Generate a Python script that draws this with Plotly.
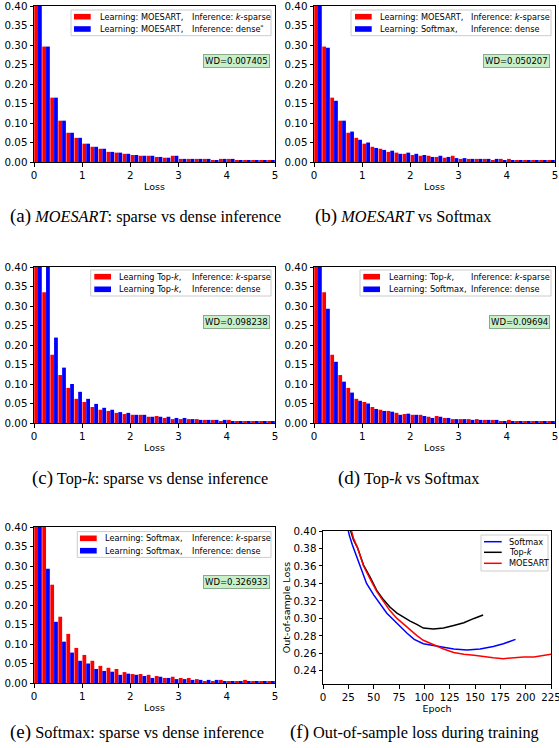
import plotly.graph_objects as go

# ---------------- data ----------------
bin_width = 1 / 6
n_bins = 30
bin_centers = [i * bin_width + bin_width / 2 for i in range(n_bins)]

moesart_sparse = [0.48, 0.296, 0.165, 0.106, 0.075, 0.062, 0.047, 0.039, 0.034, 0.026,
                  0.024, 0.021, 0.018, 0.016, 0.016, 0.013, 0.011, 0.016, 0.008, 0.008,
                  0.008, 0.008, 0.005, 0.008, 0.008, 0.005, 0.005, 0.005, 0.005, 0.003]
moesart_dense = [0.48, 0.296, 0.165, 0.106, 0.075, 0.062, 0.047, 0.039, 0.034, 0.026,
                 0.024, 0.021, 0.018, 0.016, 0.016, 0.013, 0.011, 0.016, 0.008, 0.008,
                 0.008, 0.008, 0.005, 0.008, 0.008, 0.005, 0.005, 0.005, 0.005, 0.003]
softmax_dense = [0.48, 0.293, 0.157, 0.106, 0.078, 0.057, 0.050, 0.036, 0.031, 0.029,
                 0.021, 0.024, 0.021, 0.018, 0.013, 0.016, 0.013, 0.010, 0.010, 0.008,
                 0.008, 0.008, 0.008, 0.005, 0.005, 0.005, 0.005, 0.005, 0.005, 0.005]
softmax_sparse = [0.50, 0.45, 0.252, 0.170, 0.126, 0.090, 0.072, 0.057, 0.044, 0.039,
                  0.036, 0.028, 0.023, 0.023, 0.021, 0.018, 0.013, 0.016, 0.013, 0.013,
                  0.010, 0.005, 0.005, 0.008, 0.005, 0.005, 0.008, 0.005, 0.005, 0.003]
topk_sparse = [0.48, 0.335, 0.175, 0.123, 0.090, 0.062, 0.054, 0.041, 0.034, 0.031,
               0.026, 0.023, 0.021, 0.021, 0.016, 0.018, 0.013, 0.010, 0.010, 0.010,
               0.010, 0.008, 0.008, 0.005, 0.008, 0.005, 0.005, 0.005, 0.005, 0.003]
topk_dense = [0.48, 0.42, 0.219, 0.142, 0.100, 0.080, 0.062, 0.049, 0.039, 0.034,
              0.028, 0.026, 0.021, 0.021, 0.016, 0.016, 0.016, 0.013, 0.013, 0.010,
              0.008, 0.008, 0.008, 0.008, 0.005, 0.005, 0.005, 0.003, 0.003, 0.003]

wd_values = ["0.007405", "0.050207", "0.098238", "0.09694", "0.326933"]

softmax_epochs = [24, 26, 29, 34, 38, 43, 50, 57, 63, 70, 76, 83, 90, 99, 109, 119, 129, 142, 155, 168, 178, 190]
softmax_loss = [0.405, 0.395, 0.384, 0.369, 0.356, 0.340, 0.327, 0.316, 0.306, 0.298, 0.291, 0.283, 0.276,
                0.271, 0.269, 0.267, 0.265, 0.264, 0.265, 0.268, 0.271, 0.276]
topk_epochs = [26, 30, 34, 40, 47, 53, 60, 66, 73, 80, 86, 93, 99, 109, 119, 129, 139, 149, 158]
topk_loss = [0.405, 0.390, 0.381, 0.361, 0.346, 0.332, 0.321, 0.313, 0.306, 0.301, 0.297, 0.293, 0.289,
             0.288, 0.289, 0.292, 0.295, 0.300, 0.304]
moesart_epochs = [27, 30, 34, 40, 47, 53, 60, 66, 73, 80, 86, 93, 99, 109, 119, 129, 139, 149, 159, 168,
                  178, 188, 198, 208, 218, 225]
moesart_loss = [0.405, 0.392, 0.381, 0.360, 0.344, 0.331, 0.319, 0.309, 0.300, 0.293, 0.286, 0.280, 0.275,
                0.270, 0.265, 0.261, 0.259, 0.258, 0.256, 0.255, 0.254, 0.255, 0.256, 0.256, 0.258, 0.259]

hist_ticks = [0, 0.05, 0.10, 0.15, 0.20, 0.25, 0.30, 0.35, 0.40]
loss_ticks = [0.24, 0.26, 0.28, 0.30, 0.32, 0.34, 0.36, 0.38, 0.40]
epoch_ticks = [0, 25, 50, 75, 100, 125, 150, 175, 200, 225]

# ---------------- layout helpers ----------------
W, H = 559, 748
def px(x):
    return x / W
def py(y):
    return 1 - y / H

RED = "#ff0000"
BLUE = "#0000ff"
FONT = "DejaVu Sans"
SERIF = "Liberation Serif"
LEG_FONT = 8.2
TICK_FONT = 10.3

# (axis id, left, right, top, bottom, red, blue,
#  red learning text, red inference text, blue learning text, blue inference text, wd,
#  legend box left, handle left, text left, inference left, row1 y, row2 y)
panels = [
    ("", 34, 275, 6, 162, moesart_sparse, moesart_dense,
     "Learning: MOESART,", "Inference: <i>k</i>-sparse",
     "Learning: MOESART,", "Inference: dense<sup>*</sup>", wd_values[0],
     71, 74, 98, 189.5, 16.7, 29.0),
    ("2", 314, 555, 6, 162, moesart_sparse, softmax_dense,
     "Learning: MOESART,", "Inference: <i>k</i>-sparse",
     "Learning: Softmax,", "Inference: dense", wd_values[1],
     351, 355, 377.7, 469.3, 16.7, 29.0),
    ("3", 34, 275, 267, 423, topk_sparse, topk_dense,
     "Learning Top-<i>k</i>,", "Inference: <i>k</i>-sparse",
     "Learning Top-<i>k</i>,", "Inference: dense", wd_values[2],
     90.7, 94.3, 117.3, 189.5, 276.7, 289.3),
    ("4", 314, 555, 267, 423, topk_sparse, softmax_dense,
     "Learning: Top-<i>k</i>,", "Inference: <i>k</i>-sparse",
     "Learning: Softmax,", "Inference: dense", wd_values[3],
     360, 363.3, 386.7, 469.3, 276.7, 289.3),
    ("5", 34, 275, 527, 683, softmax_sparse, softmax_dense,
     "Learning: Softmax,", "Inference: <i>k</i>-sparse",
     "Learning: Softmax,", "Inference: dense", wd_values[4],
     77.3, 80, 103.3, 189.5, 538.3, 550.7),
]

fig = go.Figure()
layout = dict(
    width=W, height=H, margin=dict(l=0, r=0, t=0, b=0, autoexpand=False),
    paper_bgcolor="white", plot_bgcolor="white",
    barmode="group", bargap=0.06, bargroupgap=0,
    font=dict(family=FONT, size=9, color="black"),
    showlegend=False,
)
annotations = []
shapes = []

axis_common = dict(showline=True, mirror=True, linecolor="black", linewidth=1,
                   ticks="outside", ticklen=3.5, tickcolor="black", tickwidth=1,
                   showgrid=False, zeroline=False, automargin=False,
                   ticklabeloverflow="allow",
                   tickfont=dict(family=FONT, size=TICK_FONT))

def text_ann(x, y, txt, size=LEG_FONT, anchor="left", family=FONT):
    return dict(text=txt, xref="paper", yref="paper", x=px(x), y=py(y),
                xanchor=anchor, yanchor="middle", showarrow=False,
                font=dict(family=family, size=size, color="black"))

for i, (aid, l, r, t, b, red, blue, rl, ri, bl, bi, wd,
        box_l, h_l, t_l, inf_l, row1, row2) in enumerate(panels):
    xa = "x" + aid
    ya = "y" + aid
    fig.add_trace(go.Bar(x=bin_centers, y=red, marker=dict(color=RED, line=dict(width=0)),
                         name=rl + " " + ri, xaxis=xa, yaxis=ya))
    fig.add_trace(go.Bar(x=bin_centers, y=blue, marker=dict(color=BLUE, line=dict(width=0)),
                         name=bl + " " + bi, xaxis=xa, yaxis=ya))
    layout["xaxis" + aid] = dict(domain=[px(l), px(r)], range=[0, 5], anchor=ya,
                                 tickvals=[0, 1, 2, 3, 4, 5],
                                 title=dict(text="Loss", font=dict(size=9.5), standoff=3),
                                 **axis_common)
    layout["yaxis" + aid] = dict(domain=[py(b), py(t)], range=[0, 0.40], anchor=xa,
                                 tickvals=hist_ticks, tickformat=".2f", **axis_common)
    # legend box
    box_r = r - 4
    shapes.append(dict(type="rect", xref="paper", yref="paper",
                       x0=px(box_l), x1=px(box_r), y0=py(row1 - 6.7), y1=py(row2 + 6.7),
                       fillcolor="rgba(255,255,255,0.85)", line=dict(color="#cccccc", width=1),
                       layer="above"))
    for yy, col, lt, it in ((row1, RED, rl, ri), (row2, BLUE, bl, bi)):
        shapes.append(dict(type="rect", xref="paper", yref="paper",
                           x0=px(h_l), x1=px(h_l + 16.7), y0=py(yy + 2.8), y1=py(yy - 2.8),
                           fillcolor=col, line=dict(width=0), layer="above"))
        annotations.append(text_ann(t_l, yy, lt))
        annotations.append(text_ann(inf_l, yy, it))
    # WD box
    annotations.append(dict(text="WD=" + wd, xref="paper", yref="paper",
                            x=px(r - 5), y=py(t + 55), xanchor="right", yanchor="middle",
                            showarrow=False, font=dict(family=FONT, size=8.5),
                            bgcolor="#c8f0c8", bordercolor="#8aa88a", borderwidth=1, borderpad=1))

# panel (f)
series_f = [
    ("Softmax", softmax_epochs, softmax_loss, BLUE, 541.7),
    ("Top-<i>k</i>", topk_epochs, topk_loss, "black", 552.3),
    ("MOESART", moesart_epochs, moesart_loss, RED, 563.3),
]
for name, xs, ys, col, _ in series_f:
    fig.add_trace(go.Scatter(x=xs, y=ys, mode="lines", name=name,
                             line=dict(color=col, width=1.5), xaxis="x6", yaxis="y6"))
layout["xaxis6"] = dict(domain=[px(323), px(551)], range=[0, 225], anchor="y6", tickvals=epoch_ticks,
                        title=dict(text="Epoch", font=dict(size=9.5), standoff=3), **axis_common)
layout["yaxis6"] = dict(domain=[py(684), py(531)], range=[0.225, 0.40], anchor="x6",
                        tickvals=loss_ticks, tickformat=".2f",
                        title=dict(text="Out-of-sample Loss", font=dict(size=9.5), standoff=1),
                        **axis_common)
shapes.append(dict(type="rect", xref="paper", yref="paper",
                   x0=px(481), x1=px(548), y0=py(535), y1=py(571),
                   fillcolor="rgba(255,255,255,0.85)", line=dict(color="#cccccc", width=1),
                   layer="above"))
for name, xs, ys, col, yy in series_f:
    shapes.append(dict(type="line", xref="paper", yref="paper",
                       x0=px(484), x1=px(501.7), y0=py(yy), y1=py(yy),
                       line=dict(color=col, width=1.5), layer="above"))
    annotations.append(text_ann(506.7, yy, name))

captions = [
    (8, 216, "<span style='font-size:19px'>(a)</span> <i>MOESART</i>: sparse vs dense inference"),
    (313, 216, "<span style='font-size:19px'>(b)</span> <i>MOESART</i> vs Softmax"),
    (30, 478, "<span style='font-size:19px'>(c)</span> Top-<i>k</i>: sparse vs dense inference"),
    (336, 478, "<span style='font-size:19px'>(d)</span> Top-<i>k</i> vs Softmax"),
    (8, 732, "<span style='font-size:19px'>(e)</span> Softmax: sparse vs dense inference"),
    (288, 732, "<span style='font-size:19px'>(f)</span> Out-of-sample loss during training"),
]
for x, y, txt in captions:
    annotations.append(text_ann(x, y, txt, size=16.3, family=SERIF))

layout["annotations"] = annotations
layout["shapes"] = shapes
fig.update_layout(**layout)
fig.write_html("out.html", config={"displayModeBar": False},
               post_script="document.body.style.margin='0px';document.body.style.padding='0px';")
